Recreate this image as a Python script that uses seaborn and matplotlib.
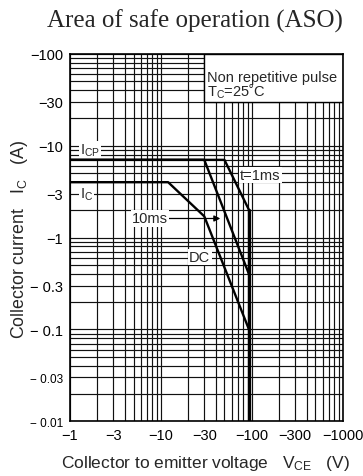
import numpy as np
import pandas as pd
import matplotlib
matplotlib.use("Agg")
import matplotlib.pyplot as plt
from matplotlib.patches import Rectangle
from matplotlib.ticker import FixedLocator, NullFormatter, LogLocator
import seaborn as sns

# Safe operating area curves (|V_CE| in V, |I_C| in A)
vce_1ms = [1, 50, 93]
ic_1ms = [7, 7, 2]
vce_10ms = [1, 30, 93]
ic_10ms = [7, 7, 0.4]
vce_dc = [1, 12, 30, 93]
ic_dc = [4, 4, 1.7, 0.1]
vce_limit = [93, 93]
ic_limit = [2, 0.01]

x_ticks = [1, 3, 10, 30, 100, 300, 1000]
x_labels = ["−1", "−3", "−10", "−30", "−100", "−300", "−1000"]
y_ticks = [100, 30, 10, 3, 1, 0.3, 0.1, 0.03, 0.01]
y_labels = ["−100", "−30", "−10", "−3", "−1", "− 0.3", "− 0.1", "− 0.03", "− 0.01"]

sns.set_style("white")
plt.rcParams["font.family"] = ["Liberation Sans", "DejaVu Sans"]
plt.rcParams["mathtext.fontset"] = "custom"
plt.rcParams["mathtext.rm"] = "Liberation Sans"
plt.rcParams["mathtext.it"] = "Liberation Sans"

W, H = 363, 477
fig = plt.figure(figsize=(W / 100, H / 100), dpi=100)
L, R, T, B = 70, 342.7, 54.7, 422.3
ax = fig.add_axes([L / W, 1 - B / H, (R - L) / W, (B - T) / H])
ax.set_xscale("log")
ax.set_yscale("log")
ax.set_xlim(1, 1000)
ax.set_ylim(0.01, 100)

# log grid: decades plus 2..9 subdivisions
ax.xaxis.set_major_locator(FixedLocator(x_ticks))
ax.yaxis.set_major_locator(FixedLocator(y_ticks))
ax.xaxis.set_minor_locator(LogLocator(base=10, subs=[2, 4, 5, 6, 7, 8, 9], numticks=20))
ax.yaxis.set_minor_locator(LogLocator(base=10, subs=[2, 4, 5, 6, 7, 8, 9], numticks=20))
ax.xaxis.set_minor_formatter(NullFormatter())
ax.yaxis.set_minor_formatter(NullFormatter())
ax.set_xticklabels(x_labels, fontsize=10.5)
ax.set_yticklabels(y_labels, fontsize=10.5)
for lab in ax.get_yticklabels()[-2:]:
    lab.set_fontsize(8.5)
ax.tick_params(which="both", length=0, pad=5, colors="black")
ax.grid(which="both", color="#111111", lw=0.85)
ax.set_axisbelow(True)
for s in ax.spines.values():
    s.set_color("black")
    s.set_linewidth(1.2)
    s.set_zorder(6)

# note box in the upper right corner
ax.add_patch(Rectangle((30, 30), 970, 70, facecolor="white", edgecolor="black",
                       lw=1.0, zorder=3))
ax.text(32.5, 56, "Non repetitive pulse", fontsize=10.5, va="center", ha="left", zorder=4)
ax.text(32.5, 39, r"$\mathregular{T_C}$=25˚C", fontsize=10.5, va="center", ha="left", zorder=4)

curves = pd.concat([
    pd.DataFrame({"vce": vce_1ms, "ic": ic_1ms, "curve": "1ms"}),
    pd.DataFrame({"vce": vce_10ms, "ic": ic_10ms, "curve": "10ms"}),
    pd.DataFrame({"vce": vce_dc, "ic": ic_dc, "curve": "DC"}),
])
for name, grp in curves.groupby("curve", sort=False):
    sns.lineplot(data=grp, x="vce", y="ic", sort=False, estimator=None, color="black",
                 lw=1.7, ax=ax, zorder=5, legend=False)
sns.lineplot(x=vce_limit, y=ic_limit, sort=False, estimator=None, color="black",
             lw=2.4, ax=ax, zorder=5)
ax.set_xlabel("")
ax.set_ylabel("")

bg = dict(facecolor="white", edgecolor="none", pad=0.8)
ax.text(1.29, 8.9, r"$\mathregular{I_{CP}}$", fontsize=10.5, va="center", ha="left",
        bbox=bg, zorder=4)
ax.text(1.29, 2.97, r"$\mathregular{I_{C}}$", fontsize=10.5, va="center", ha="left",
        bbox=bg, zorder=4)
ax.text(74, 4.8, "t=1ms", fontsize=10.5, va="center", ha="left", bbox=bg, zorder=4)
ax.text(20.5, 0.61, "DC", fontsize=10.5, va="center", ha="left", bbox=bg, zorder=4)
ax.annotate("10ms", xy=(45, 1.61), xytext=(4.8, 1.61), fontsize=10.5,
            va="center", ha="left", zorder=4,
            bbox=bg,
            arrowprops=dict(arrowstyle="-|>", color="black", lw=0.9,
                            mutation_scale=9, shrinkA=0, shrinkB=0))

fig.text(195 / W, 1 - 21 / H, "Area of safe operation (ASO)",
         fontsize=18, family="Liberation Serif", ha="center", va="center")
fig.text(205 / W, 1 - 464 / H, r"Collector to emitter voltage   $\mathregular{V_{CE}}$   (V)",
         fontsize=12.5, ha="center", va="center")
fig.text(20 / W, 1 - 239 / H, r"Collector current   $\mathregular{I_{C}}$   (A)",
         fontsize=12.8, ha="center", va="center", rotation=90)

fig.savefig("out.png", dpi=100, facecolor="white")
